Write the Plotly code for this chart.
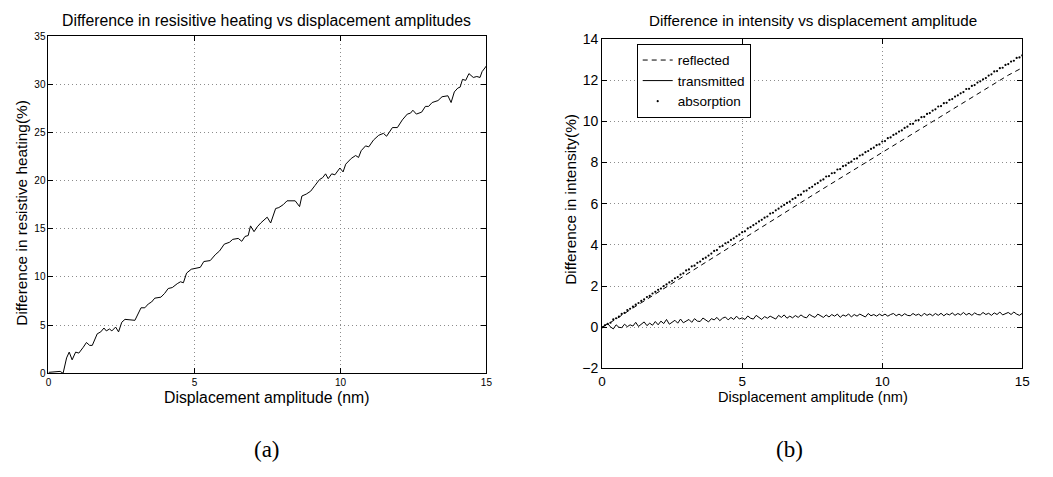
import plotly.graph_objects as go

# ---- (a) resistive heating vs displacement amplitude ----
heat_x = [0.0, 0.4, 0.5, 0.62, 0.71, 0.81, 0.93, 1.04, 1.19, 1.30, 1.41, 1.50, 1.67, 1.79,
          1.90, 1.98, 2.09, 2.17, 2.30, 2.40, 2.51, 2.62, 2.96, 3.05, 3.17, 3.30, 3.42, 3.53,
          3.64, 3.85, 3.98, 4.10, 4.24, 4.41, 4.52, 4.62, 4.73, 4.89, 5.09, 5.20, 5.32, 5.54,
          5.71, 5.86, 6.02, 6.20, 6.31, 6.50, 6.62, 6.73, 6.84, 6.92, 7.04, 7.15, 7.27, 7.49,
          7.61, 7.78, 7.89, 8.04, 8.17, 8.45, 8.60, 8.68, 8.83, 8.98, 9.13, 9.28, 9.39, 9.49,
          9.58, 9.70, 9.81, 9.98, 10.09, 10.18, 10.37, 10.52, 10.62, 10.71, 10.86, 10.97,
          11.13, 11.31, 11.47, 11.58, 11.78, 11.95, 12.12, 12.29, 12.40, 12.48, 12.60, 12.78,
          12.91, 13.02, 13.14, 13.34, 13.48, 13.68, 13.79, 13.90, 14.02, 14.10, 14.18, 14.29,
          14.40, 14.55, 14.67, 14.78, 14.85, 15.0]
heat_y = [0.1, 0.2, 0.0, 1.6, 2.2, 1.4, 2.2, 2.1, 2.7, 3.2, 2.9, 2.9, 4.1, 4.3,
          4.7, 4.4, 4.6, 4.4, 4.8, 4.3, 5.3, 5.6, 5.5, 6.1, 6.8, 6.8, 7.2, 7.4,
          7.8, 7.9, 8.3, 8.8, 8.9, 9.3, 9.5, 9.4, 10.4, 10.8, 10.9, 11.0, 11.6, 11.7,
          12.3, 12.7, 13.4, 13.6, 13.9, 14.0, 13.7, 14.2, 14.3, 15.3, 14.7, 15.2, 15.6, 16.2,
          15.6, 17.1, 17.2, 17.5, 17.9, 17.9, 17.3, 18.4, 18.6, 18.9, 19.5, 20.1, 20.3, 20.7,
          20.2, 20.7, 20.6, 21.3, 20.9, 21.7, 22.3, 22.6, 22.4, 23.1, 23.6, 23.5,
          24.2, 24.7, 24.9, 24.6, 25.5, 25.5, 26.3, 26.9, 27.0, 27.3, 26.9, 27.1,
          27.7, 27.7, 28.1, 28.3, 28.7, 28.8, 28.1, 29.2, 29.6, 29.7, 30.5, 30.4,
          31.1, 30.7, 30.8, 30.7, 31.3, 31.9]

# ---- (b) intensity differences vs displacement amplitude ----
amp_x = [i / 10 for i in range(151)]
absorption = [
    0.00, 0.10, 0.17, 0.22, 0.38, 0.44, 0.52, 0.65, 0.70, 0.84,
    0.90, 1.00, 1.10, 1.18, 1.28, 1.36, 1.47, 1.53, 1.64, 1.72,
    1.82, 1.88, 2.00, 2.08, 2.18, 2.26, 2.38, 2.44, 2.56, 2.62,
    2.76, 2.81, 2.96, 2.99, 3.13, 3.19, 3.32, 3.38, 3.48, 3.58,
    3.71, 3.75, 3.91, 3.95, 4.08, 4.13, 4.24, 4.32, 4.42, 4.50,
    4.62, 4.66, 4.80, 4.86, 4.96, 5.04, 5.14, 5.22, 5.32, 5.38,
    5.52, 5.56, 5.68, 5.76, 5.86, 5.94, 6.04, 6.10, 6.22, 6.28,
    6.42, 6.44, 6.60, 6.64, 6.76, 6.82, 6.94, 7.00, 7.12, 7.18,
    7.32, 7.34, 7.48, 7.50, 7.66, 7.68, 7.82, 7.86, 7.98, 8.04,
    8.17, 8.20, 8.34, 8.38, 8.50, 8.56, 8.66, 8.72, 8.84, 8.88,
    9.02, 9.04, 9.18, 9.22, 9.34, 9.40, 9.50, 9.56, 9.68, 9.74,
    9.87, 9.88, 10.04, 10.06, 10.20, 10.22, 10.36, 10.40, 10.52, 10.58,
    10.72, 10.74, 10.88, 10.90, 11.04, 11.08, 11.20, 11.26, 11.36, 11.42,
    11.57, 11.58, 11.72, 11.76, 11.88, 11.94, 12.04, 12.10, 12.22, 12.28,
    12.42, 12.44, 12.58, 12.60, 12.74, 12.78, 12.90, 12.94, 13.08, 13.10,
    13.20]
transmitted = [
    0.00, 0.08, 0.18, 0.02, -0.08, 0.12, 0.00, -0.02, 0.15, 0.03,
    0.12, 0.06, 0.24, 0.04, 0.14, 0.26, 0.08, 0.20, 0.10, 0.28,
    0.12, 0.30, 0.18, 0.38, 0.15, 0.24, 0.34, 0.20, 0.40, 0.22,
    0.32, 0.38, 0.24, 0.42, 0.30, 0.28, 0.45, 0.34, 0.26, 0.42,
    0.36, 0.48, 0.32, 0.44, 0.50, 0.36, 0.48, 0.38, 0.54, 0.40,
    0.46, 0.38, 0.55, 0.44, 0.40, 0.58, 0.46, 0.38, 0.52, 0.44,
    0.54, 0.46, 0.40, 0.58, 0.48, 0.60, 0.44, 0.54, 0.46, 0.57,
    0.48, 0.60, 0.50, 0.46, 0.63, 0.54, 0.48, 0.64, 0.54, 0.48,
    0.60, 0.50, 0.62, 0.54, 0.64, 0.48, 0.60, 0.54, 0.65, 0.50,
    0.62, 0.54, 0.64, 0.58, 0.50, 0.67, 0.56, 0.62, 0.54, 0.64,
    0.56, 0.64, 0.54, 0.62, 0.67, 0.56, 0.64, 0.55, 0.66, 0.58,
    0.56, 0.67, 0.58, 0.64, 0.54, 0.68, 0.58, 0.65, 0.56, 0.67,
    0.58, 0.68, 0.56, 0.66, 0.60, 0.70, 0.58, 0.67, 0.60, 0.72,
    0.60, 0.68, 0.58, 0.70, 0.62, 0.60, 0.72, 0.62, 0.68, 0.58,
    0.70, 0.62, 0.74, 0.60, 0.68, 0.72, 0.62, 0.74, 0.64, 0.58,
    0.68]
refl_x = [0.0, 0.5, 1.0, 1.5, 2.0, 2.5, 3.0, 3.5, 4.0, 4.5, 5.0, 5.5, 6.0, 6.5, 7.0, 7.5,
          8.0, 8.5, 9.0, 9.5, 10.0, 10.5, 11.0, 11.5, 12.0, 12.5, 13.0, 13.5, 14.0, 14.5, 15.0]
reflected = [0.0, 0.40, 0.85, 1.28, 1.70, 2.13, 2.56, 2.98, 3.42, 3.85, 4.28, 4.70, 5.12,
             5.55, 5.97, 6.40, 6.82, 7.24, 7.66, 8.08, 8.50, 8.92, 9.34, 9.76, 10.18,
             10.60, 11.02, 11.44, 11.86, 12.24, 12.60]

FONT = "Liberation Sans, Arial, Helvetica, sans-serif"
W, H = 1053, 477

fig = go.Figure()
fig.add_trace(go.Scatter(x=heat_x, y=heat_y, mode="lines", line=dict(color="black", width=1),
                         showlegend=False, xaxis="x", yaxis="y"))
fig.add_trace(go.Scatter(x=refl_x, y=reflected, mode="lines", name="reflected",
                         line=dict(color="black", width=1, dash="5px,4px"), xaxis="x2", yaxis="y2"))
fig.add_trace(go.Scatter(x=amp_x, y=transmitted, mode="lines", name="transmitted",
                         line=dict(color="black", width=1), xaxis="x2", yaxis="y2"))
fig.add_trace(go.Scatter(x=amp_x, y=absorption, mode="markers", name="absorption",
                         marker=dict(color="black", size=2.2), xaxis="x2", yaxis="y2"))


def px_x(p):
    return p / W


def px_y(p):
    return 1 - p / H


axis_common = dict(showline=True, linecolor="black", linewidth=1, mirror="allticks",
                   ticks="inside", ticklen=5, tickcolor="black", showgrid=True,
                   gridcolor="#8c8c8c", griddash="1px,3px", gridwidth=1, zeroline=False)

fig.update_layout(
    width=W, height=H, margin=dict(l=0, r=0, t=0, b=0),
    paper_bgcolor="white", plot_bgcolor="white",
    font=dict(family=FONT, color="black"),
    xaxis=dict(domain=[px_x(45), px_x(488)], range=[0, 15], tickvals=[0, 5, 10, 15],
               tickfont=dict(size=10), anchor="y", **axis_common),
    yaxis=dict(domain=[px_y(378), px_y(29)], range=[0, 35], tickvals=list(range(0, 36, 5)),
               tickfont=dict(size=10), anchor="x", **axis_common),
    xaxis2=dict(domain=[px_x(605), px_x(1030)], range=[0, 15], tickvals=[0, 5, 10, 15],
                tickfont=dict(size=13.5), anchor="y2", **axis_common),
    yaxis2=dict(domain=[px_y(373), px_y(32)], range=[-2, 14], tickvals=list(range(-2, 15, 2)),
                ticktext=["\u22122"] + [str(v) for v in range(0, 15, 2)],
                tickfont=dict(size=14), anchor="x2", **axis_common),
    legend=dict(x=px_x(640), y=px_y(37), xanchor="left", yanchor="top",
                bgcolor="white", bordercolor="black", borderwidth=1,
                font=dict(size=13.5), tracegroupgap=0, itemwidth=30),
)

ann = [
    dict(text="Difference in resisitive heating vs displacement amplitudes", x=px_x(266), y=px_y(13), size=15.8, angle=0),
    dict(text="Displacement amplitude (nm)", x=px_x(266), y=px_y(403), size=15.8, angle=0),
    dict(text="Difference in resistive heating(%)", x=px_x(18), y=px_y(212), size=15.4, angle=-90),
    dict(text="Difference in intensity vs displacement amplitude", x=px_x(818), y=px_y(13), size=15.2, angle=0),
    dict(text="Displacement amplitude (nm)", x=px_x(818), y=px_y(403), size=14.6, angle=0),
    dict(text="Difference in intensity(%)", x=px_x(573), y=px_y(198), size=15.4, angle=-90),
]
for a in ann:
    fig.add_annotation(text=a["text"], x=a["x"], y=a["y"], xref="paper", yref="paper",
                       showarrow=False, textangle=a["angle"], font=dict(size=a["size"], family=FONT),
                       xanchor="center", yanchor="middle")

for lbl, cx in (("(a)", 266), ("(b)", 795)):
    fig.add_annotation(text=lbl, x=px_x(cx), y=px_y(457), xref="paper", yref="paper",
                       showarrow=False, font=dict(size=23, family="Liberation Serif, DejaVu Serif, serif"),
                       xanchor="center", yanchor="middle")

fig.write_html("out.html")
